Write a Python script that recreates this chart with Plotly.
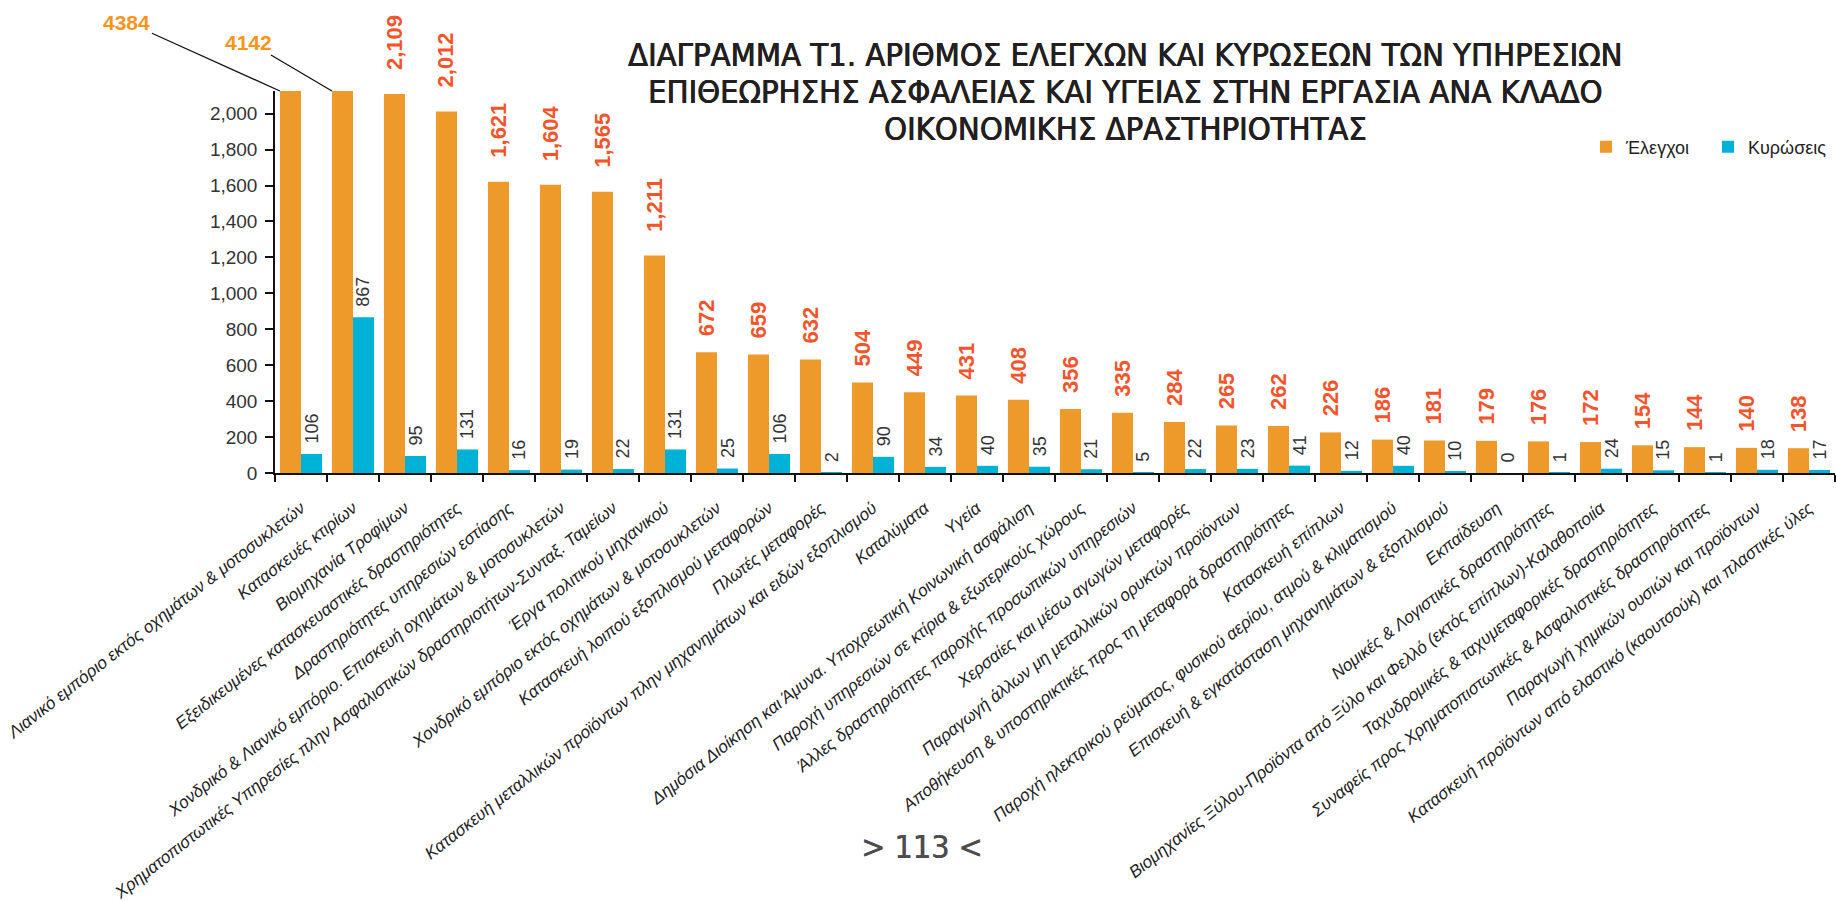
import plotly.graph_objects as go

# ---------------- data ----------------
categories = [
    "Λιανικό εμπόριο εκτός οχημάτων & μοτοσυκλετών",
    "Κατασκευές κτιρίων",
    "Βιομηχανία Τροφίμων",
    "Εξειδικευμένες κατασκευαστικές δραστηριότητες",
    "Δραστηριότητες υπηρεσιών εστίασης",
    "Χονδρικό & Λιανικό εμπόριο. Επισκευή οχημάτων & μοτοσυκλετών",
    "Χρηματοπιστωτικές Υπηρεσίες πλην Ασφαλιστικών δραστηριοτήτων-Συνταξ. Ταμείων",
    "Έργα πολιτικού μηχανικού",
    "Χονδρικό εμπόριο εκτός οχημάτων & μοτοσυκλετών",
    "Κατασκευή λοιπού εξοπλισμού μεταφορών",
    "Πλωτές μεταφορές",
    "Κατασκευή μεταλλικών προϊόντων πλην μηχανημάτων και ειδών εξοπλισμού",
    "Καταλύματα",
    "Υγεία",
    "Δημόσια Διοίκηση και Άμυνα. Υποχρεωτική Κοινωνική ασφάλιση",
    "Παροχή υπηρεσιών σε κτίρια & εξωτερικούς χώρους",
    "Άλλες δραστηριότητες παροχής προσωπικών υπηρεσιών",
    "Χερσαίες και μέσω αγωγών μεταφορές",
    "Παραγωγή άλλων μη μεταλλικών ορυκτών προϊόντων",
    "Αποθήκευση & υποστηρικτικές προς τη μεταφορά δραστηριότητες",
    "Κατασκευή επίπλων",
    "Παροχή ηλεκτρικού ρεύματος, φυσικού αερίου, ατμού & κλιματισμού",
    "Επισκευή & εγκατάσταση μηχανημάτων & εξοπλισμού",
    "Εκπαίδευση",
    "Νομικές & Λογιστικές δραστηριότητες",
    "Βιομηχανίες Ξύλου-Προϊόντα από Ξύλο και Φελλό (εκτός επίπλων)-Καλαθοποιία",
    "Ταχυδρομικές & ταχυμεταφορικές δραστηριότητες",
    "Συναφείς προς Χρηματοπιστωτικές & Ασφαλιστικές δραστηριότητες",
    "Παραγωγή χημικών ουσιών και προϊόντων",
    "Κατασκευή προϊόντων από ελαστικό (καουτσούκ) και πλαστικές ύλες",
]
inspections = [4384, 4142, 2109, 2012, 1621, 1604, 1565, 1211, 672, 659, 632, 504,
               449, 431, 408, 356, 335, 284, 265, 262, 226, 186, 181, 179, 176, 172,
               154, 144, 140, 138]
sanctions = [106, 867, 95, 131, 16, 19, 22, 131, 25, 106, 2, 90, 34, 40, 35, 21, 5,
             22, 23, 41, 12, 40, 10, 0, 1, 24, 15, 1, 18, 17]
y_ticks = list(range(0, 2001, 200))
series_names = ["Έλεγχοι", "Κυρώσεις"]
title_lines = [
    "ΔΙΑΓΡΑΜΜΑ Τ1. ΑΡΙΘΜΟΣ ΕΛΕΓΧΩΝ ΚΑΙ ΚΥΡΩΣΕΩΝ ΤΩΝ ΥΠΗΡΕΣΙΩΝ",
    "ΕΠΙΘΕΩΡΗΣΗΣ ΑΣΦΑΛΕΙΑΣ ΚΑΙ ΥΓΕΙΑΣ ΣΤΗΝ ΕΡΓΑΣΙΑ ΑΝΑ ΚΛΑΔΟ",
    "ΟΙΚΟΝΟΜΙΚΗΣ ΔΡΑΣΤΗΡΙΟΤΗΤΑΣ",
]
page_label = "> 113 <"

# ---------------- layout geometry / style ----------------
W, H = 1836, 901
ML, MR, MT, MB = 275, 1, 91, 428
Y_MAX = 2126
BARGAP = 0.19
n_cat = len(categories)
plot_w = W - ML - MR
plot_h = H - MT - MB
cat_w = plot_w / n_cat
bar_w = cat_w * (1 - BARGAP) / 2

ORANGE = "#EE9A2B"
BLUE = "#00B2D6"
LABEL_RED = "#F2552C"
LABEL_ORANGE = "#F7941D"
TITLE_COLOR = "#231F20"
BASE_FONT = "Liberation Sans, Arial, sans-serif"
COND_FONT = "Liberation Sans Narrow, DejaVu Sans Condensed, Roboto, sans-serif"

def px_x(px):
    return (px - ML) / plot_w

def px_y(py):
    return (H - MB - py) / plot_h

fig = go.Figure()
fig.add_bar(x=categories, y=inspections, name=series_names[0], legend="legend",
            marker=dict(color=ORANGE, line=dict(width=0)))
fig.add_bar(x=categories, y=sanctions, name=series_names[1], legend="legend2",
            marker=dict(color=BLUE, line=dict(width=0)))

annotations = []
# value labels
for i, (v_o, v_b) in enumerate(zip(inspections, sanctions)):
    if v_o <= Y_MAX:
        txt = f"{v_o:,}"
        annotations.append(dict(
            x=i, y=v_o, xref="x", yref="y", text=txt, showarrow=False,
            textangle=-90, xanchor="center", yanchor="bottom",
            xshift=-bar_w / 2, yshift=4 * len(txt) + 2,
            font=dict(family=BASE_FONT, size=22, color=LABEL_RED, weight="bold"),
        ))
    txtb = f"{v_b}"
    annotations.append(dict(
        x=i, y=v_b, xref="x", yref="y", text=txtb, showarrow=False,
        textangle=-90, xanchor="center", yanchor="bottom",
        xshift=bar_w / 2, yshift=8,
        font=dict(family=BASE_FONT, size=18, color="#333333"),
    ))

# call-out labels for clipped bars
callout_offsets = [(-153, -69), (-83, -49)]
clipped = [i for i, v in enumerate(inspections) if v > Y_MAX]
for k, i in enumerate(clipped):
    ax, ay = callout_offsets[k]
    annotations.append(dict(
        x=i, y=Y_MAX, xref="x", yref="y", text=str(inspections[i]),
        xshift=-bar_w, showarrow=True, arrowhead=0, arrowwidth=1.3,
        arrowcolor="#111111", ax=ax, ay=ay, standoff=0,
        font=dict(family=BASE_FONT, size=21, color=LABEL_ORANGE, weight="bold"),
    ))

# title, one annotation per line
title_centers = [55, 92, 129]
for line, cy in zip(title_lines, title_centers):
    annotations.append(dict(
        x=px_x(1125), y=px_y(cy), xref="paper", yref="paper",
        text=line, showarrow=False, xanchor="center", yanchor="middle",
        font=dict(family=COND_FONT, size=32.5, color=TITLE_COLOR,
                  shadow=f"0.5px 0 0 {TITLE_COLOR}, -0.3px 0 0 {TITLE_COLOR}"),
    ))
# page number
annotations.append(dict(
    x=px_x(921), y=px_y(847), xref="paper", yref="paper",
    text=page_label, showarrow=False, xanchor="center", yanchor="middle",
    font=dict(family=COND_FONT, size=32, color="#4D4D4F",
              shadow="0.6px 0 0 #4D4D4F"),
))

legend_style = dict(orientation="h", xanchor="left", yanchor="middle",
                    font=dict(family=BASE_FONT, size=18, color="#222222"),
                    itemwidth=30, bgcolor="rgba(0,0,0,0)", borderwidth=0)

fig.update_layout(
    width=W, height=H,
    margin=dict(l=ML, r=MR, t=MT, b=MB, pad=0, autoexpand=False),
    paper_bgcolor="white", plot_bgcolor="white",
    barmode="group", bargap=BARGAP, bargroupgap=0,
    annotations=annotations,
    showlegend=True,
    legend=dict(x=px_x(1586), y=px_y(147), **legend_style),
    legend2=dict(x=px_x(1708), y=px_y(147), **legend_style),
    xaxis=dict(
        type="category", range=[-0.5, n_cat - 0.5], autorange=False,
        tickson="boundaries", ticks="outside", ticklen=7,
        tickwidth=1.5, tickcolor="#111111", showline=True, linecolor="#111111",
        linewidth=1.5, showgrid=False, tickangle=-38, automargin=False,
        ticklabelstandoff=17,
        tickfont=dict(family=BASE_FONT, size=17, color="#222222", style="italic"),
    ),
    yaxis=dict(
        range=[0, Y_MAX], autorange=False, tickvals=y_ticks, tickformat=",",
        ticks="outside", ticklen=8, tickwidth=1.5, tickcolor="#111111",
        showline=True, linecolor="#111111", linewidth=1.5, showgrid=False,
        zeroline=False, automargin=False, ticklabelstandoff=4,
        tickfont=dict(family=BASE_FONT, size=19, color="#333333"),
    ),
)

# remove the browser's default 8px body margin so the figure sits at (0, 0)
fig.write_html("out.html", config={"displayModeBar": False},
               post_script="document.body.style.margin='0px';")
